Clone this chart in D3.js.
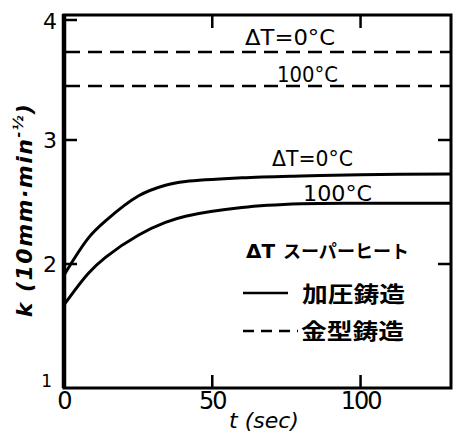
<!DOCTYPE html>
<html>
<head>
<meta charset="utf-8">
<script src="https://cdn.jsdelivr.net/npm/d3@7"></script>
<style>
  body { margin: 0; background: #fff; }
  text { fill: #000; }
</style>
</head>
<body>
<div id="chart"></div>
<script>
/**
 * DATA
 * */
const xTicks = [0, 50, 100];
const yTicks = [1, 2, 3, 4];

// pressure casting (solid), dT = 0 and 100 C
const pressT   = [0, 8.4, 14.1, 25.2, 34.2, 41, 60, 80, 100, 130.5];
const press0   = [1.91, 2.215, 2.35, 2.55, 2.635, 2.665, 2.695, 2.71, 2.72, 2.726];
const press100 = [1.67, 1.93, 2.056, 2.234, 2.335, 2.385, 2.455, 2.485, 2.49, 2.49];

// die casting (dashed), constant
const die0   = 3.71;
const die100 = 3.435;

/**
 * LAYOUT
 * */
const width = 456, height = 434;
const pLeft = 64, pRight = 451, pTop = 15, pBottom = 388;

const svg = d3.select("#chart").append("svg")
  .attr("width", width)
  .attr("height", height);

const x = d3.scaleLinear().domain([0, 130.5]).range([pLeft, pRight]);
const y = d3.scaleLinear().domain([1, 4]).range([pBottom, 16]);

// frame
svg.append("rect")
  .attr("x", pLeft).attr("y", pTop)
  .attr("width", pRight - pLeft).attr("height", pBottom - pTop)
  .attr("fill", "none").attr("stroke", "#000").attr("stroke-width", 3);
svg.append("line")
  .attr("x1", pLeft).attr("x2", pLeft).attr("y1", pTop - 1).attr("y2", pBottom)
  .attr("stroke", "#000").attr("stroke-width", 4.5);

// inward ticks
const tickLen = 13;
yTicks.filter(d => d > 1).forEach(d => {
  svg.append("line").attr("x1", pLeft).attr("x2", pLeft + tickLen)
    .attr("y1", y(d) + (d === 4 ? 4 : 0)).attr("y2", y(d) + (d === 4 ? 4 : 0))
    .attr("stroke", "#000").attr("stroke-width", 2.5);
  if (d < 4) svg.append("line").attr("x1", pRight - tickLen).attr("x2", pRight)
    .attr("y1", y(d)).attr("y2", y(d)).attr("stroke", "#000").attr("stroke-width", 2.5);
});
xTicks.filter(d => d > 0).forEach(d => {
  svg.append("line").attr("x1", x(d)).attr("x2", x(d))
    .attr("y1", pBottom).attr("y2", pBottom - tickLen).attr("stroke", "#000").attr("stroke-width", 2.5);
  svg.append("line").attr("x1", x(d)).attr("x2", x(d))
    .attr("y1", pTop).attr("y2", pTop + tickLen).attr("stroke", "#000").attr("stroke-width", 2.5);
});

// tick labels
const font = "'DejaVu Sans', sans-serif";
svg.selectAll(".yt").data(yTicks).join("text")
  .attr("x", d => d === 1 ? 52 : 57)
  .attr("y", d => d === 1 ? y(d) - 1 : d === 4 ? y(d) + 13 : y(d) + 8)
  .attr("text-anchor", "end")
  .attr("font-family", font)
  .attr("font-size", d => d === 1 ? 17 : 22)
  .text(d => d);
svg.selectAll(".xt").data(xTicks).join("text")
  .attr("x", d => x(d))
  .attr("y", 409)
  .attr("text-anchor", "middle")
  .attr("font-family", font)
  .attr("font-size", 24)
  .attr("letter-spacing", -2)
  .text(d => d);

// axis titles
svg.append("text")
  .attr("x", 264).attr("y", 428)
  .attr("text-anchor", "middle")
  .attr("font-family", font).attr("font-style", "italic")
  .attr("font-size", 22)
  .text("t (sec)");

const yl = svg.append("text")
  .attr("transform", "translate(32,210) rotate(-90)")
  .attr("text-anchor", "middle")
  .attr("font-family", font).attr("font-style", "italic").attr("font-weight", "bold")
  .attr("font-size", 22)
  .attr("letter-spacing", 1.5);
yl.append("tspan").text("k (10mm·min");
yl.append("tspan").attr("dy", -9).attr("font-size", 14).text("-½");
yl.append("tspan").attr("dy", 9).text(")");

// curves
const line = d3.line()
  .x((d, i) => x(pressT[i]))
  .y(d => y(d))
  .curve(d3.curveCatmullRom.alpha(0.5));

[press0, press100].forEach(s => {
  svg.append("path")
    .attr("d", line(s))
    .attr("fill", "none").attr("stroke", "#000").attr("stroke-width", 3);
});

[die0, die100].forEach(v => {
  svg.append("line")
    .attr("x1", x(0) + 2).attr("x2", pRight)
    .attr("y1", y(v)).attr("y2", y(v))
    .attr("stroke", "#000").attr("stroke-width", 2.5)
    .attr("stroke-dasharray", "14,8");
});

// curve labels
const lab = (tx, ty, s, w) => svg.append("text")
  .attr("x", tx).attr("y", ty)
  .attr("font-family", font).attr("font-size", 22)
  .attr("textLength", w).attr("lengthAdjust", "spacingAndGlyphs")
  .text(s);
lab(245, 45, "ΔT=0°C", 90);
lab(277, 82, "100°C", 61);
lab(272, 166, "ΔT=0°C", 81);
lab(303, 201, "100°C", 69);

// legend
const jp = "'Noto Sans CJK JP', sans-serif";
svg.append("text").attr("x", 246).attr("y", 258)
  .attr("font-family", font).attr("font-weight", "bold").attr("font-size", 20)
  .text("ΔT");
svg.append("text").attr("x", 283).attr("y", 258)
  .attr("font-family", jp).attr("font-weight", "bold").attr("font-size", 18)
  .attr("textLength", 126).attr("lengthAdjust", "spacingAndGlyphs")
  .text("スーパーヒート");
svg.append("line").attr("x1", 243).attr("x2", 288).attr("y1", 293).attr("y2", 293)
  .attr("stroke", "#000").attr("stroke-width", 2.5);
svg.append("text").attr("x", 302).attr("y", 302)
  .attr("font-family", jp).attr("font-weight", "bold").attr("font-size", 22)
  .attr("textLength", 103).attr("lengthAdjust", "spacingAndGlyphs")
  .text("加圧鋳造");
svg.append("line").attr("x1", 243).attr("x2", 298).attr("y1", 331).attr("y2", 331)
  .attr("stroke", "#000").attr("stroke-width", 2.5)
  .attr("stroke-dasharray", "11,7");
svg.append("text").attr("x", 301).attr("y", 339)
  .attr("font-family", jp).attr("font-weight", "bold").attr("font-size", 22)
  .attr("textLength", 103).attr("lengthAdjust", "spacingAndGlyphs")
  .text("金型鋳造");
</script>
</body>
</html>
